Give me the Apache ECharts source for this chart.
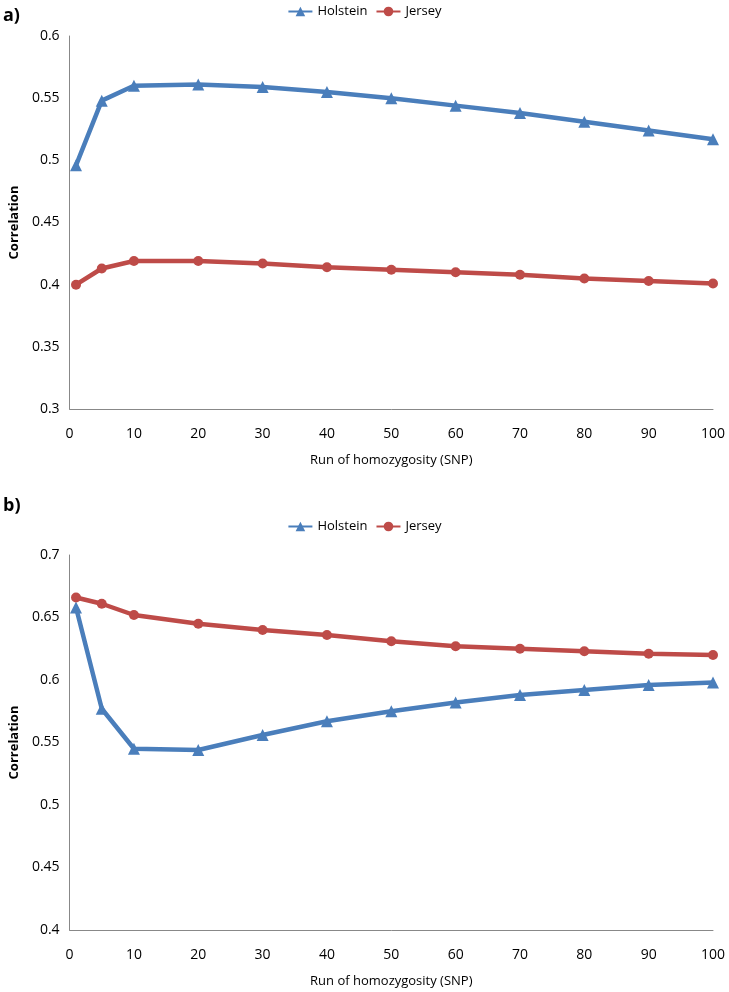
<!DOCTYPE html>
<html>
<head>
<meta charset="utf-8">
<script src="https://cdn.jsdelivr.net/npm/echarts@6/dist/echarts.min.js"></script>
<style>html,body{margin:0;padding:0;background:#fff;}#c{width:729px;height:992px;}</style>
</head>
<body>
<div id="c"></div>
<script>
var xValues = [1, 5, 10, 20, 30, 40, 50, 60, 70, 80, 90, 100];
var holsteinA = [0.496, 0.548, 0.560, 0.561, 0.559, 0.555, 0.550, 0.544, 0.538, 0.531, 0.524, 0.517];
var jerseyA   = [0.400, 0.413, 0.419, 0.419, 0.417, 0.414, 0.412, 0.410, 0.408, 0.405, 0.403, 0.401];
var holsteinB = [0.658, 0.577, 0.545, 0.544, 0.556, 0.567, 0.575, 0.582, 0.588, 0.592, 0.596, 0.598];
var jerseyB   = [0.666, 0.661, 0.652, 0.645, 0.640, 0.636, 0.631, 0.627, 0.625, 0.623, 0.621, 0.620];
var xTitle = 'Run of homozygosity (SNP)';
var yTitle = 'Correlation';

function pairs(v){ return xValues.map(function(x,i){ return [x, v[i]]; }); }
var FONT = "'Open Sans', sans-serif";
var BLUE = '#4a7ebb', RED = '#be4b48';

function xAxis(idx){
  return {gridIndex: idx, type:'value', min:0, max:100, interval:10,
    name: xTitle, nameLocation:'middle', nameGap: 45,
    nameTextStyle:{fontFamily:FONT, fontSize:13, color:'#000'},
    axisLine:{lineStyle:{color:'#888', width:1}}, axisTick:{show:false},
    splitLine:{show:false},
    axisLabel:{fontFamily:FONT, fontSize:14, color:'#000', margin:18}};
}
function yAxis(idx, min, max){
  return {gridIndex: idx, type:'value', min:min, max:max, interval:0.05,
    name: yTitle, nameLocation:'middle', nameGap: 30, nameRotate: 90,
    nameTextStyle:{fontFamily:FONT, fontSize:13, fontWeight:'bold', color:'#000'},
    axisLine:{show:true, lineStyle:{color:'#888', width:1}}, axisTick:{show:false},
    splitLine:{show:false},
    axisLabel:{fontFamily:FONT, fontSize:14, color:'#000', margin:10,
      formatter:function(v){ return String(+v.toFixed(2)); }}};
}
function line(name, data, xi, color, symbol, size){
  return {name:name, type:'line', xAxisIndex:xi, yAxisIndex:xi, data:pairs(data),
    symbol:symbol, symbolSize:size, lineStyle:{color:color, width:4.5},
    itemStyle:{color:color}, animation:false};
}
var chart = echarts.init(document.getElementById('c'), null, {renderer:'canvas'});
chart.setOption({
  backgroundColor:'#fff',
  animation:false,
  title:[
    {text:'a)', left:-2, top:2, textStyle:{fontFamily:FONT, fontSize:18, fontWeight:'bold', color:'#000'}},
    {text:'b)', left:-2, top:492, textStyle:{fontFamily:FONT, fontSize:18, fontWeight:'bold', color:'#000'}}
  ],
  legend:[
    {top:0, left:'center', itemGap:8, itemWidth:24, itemHeight:12, data:['Holstein','Jersey'],
     textStyle:{fontFamily:FONT, fontSize:13, color:'#000'}},
    {top:515, left:'center', itemGap:8, itemWidth:24, itemHeight:12, data:['Holstein','Jersey'],
     textStyle:{fontFamily:FONT, fontSize:13, color:'#000'}}
  ],
  grid:[
    {left:52, right:16, top:36, height:373},
    {left:52, right:16, top:555, height:375}
  ],
  xAxis:[xAxis(0), xAxis(1)],
  yAxis:[yAxis(0, 0.3, 0.6), yAxis(1, 0.4, 0.7)],
  series:[
    line('Holstein', holsteinA, 0, BLUE, 'triangle', 12),
    line('Jersey', jerseyA, 0, RED, 'circle', 10),
    line('Holstein', holsteinB, 1, BLUE, 'triangle', 12),
    line('Jersey', jerseyB, 1, RED, 'circle', 10)
  ]
});
</script>
</body>
</html>
